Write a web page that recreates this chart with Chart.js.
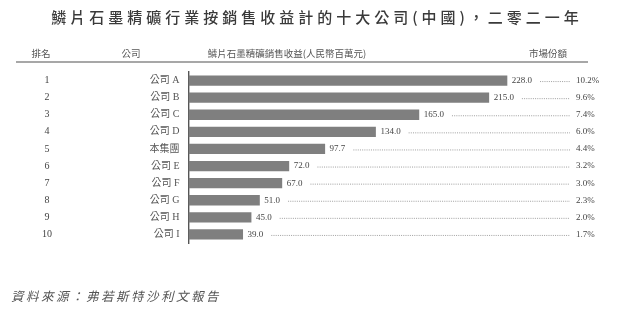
<!DOCTYPE html>
<html lang="zh-Hant">
  <head>
    <meta charset="UTF-8" />
    <title>鱗片石墨精礦行業十大公司</title>
    <script src="https://cdn.jsdelivr.net/npm/chart.js"></script>
    <style>
      html, body { margin: 0; padding: 0; background: #fff; }
      .chart-container { position: relative; width: 640px; height: 312px; }
    </style>
  </head>
  <body>
    <div class="chart-container">
      <canvas id="rankChart"></canvas>
    </div>
    <script>
      const ranks = [1, 2, 3, 4, 5, 6, 7, 8, 9, 10];
      const companies = ["公司 A", "公司 B", "公司 C", "公司 D", "本集團", "公司 E", "公司 F", "公司 G", "公司 H", "公司 I"];
      const revenue = [228.0, 215.0, 165.0, 134.0, 97.7, 72.0, 67.0, 51.0, 45.0, 39.0];
      const marketShare = [10.2, 9.6, 7.4, 6.0, 4.4, 3.2, 3.0, 2.3, 2.0, 1.7];

      const titleText = "鱗片石墨精礦行業按銷售收益計的十大公司(中國)，二零二一年";
      const headers = ["排名", "公司", "鱗片石墨精礦銷售收益(人民幣百萬元)", "市場份額"];
      const sourceText = "資料來源：弗若斯特沙利文報告";

      const serif = "'Liberation Serif', 'Noto Sans CJK TC', serif";
      const cjk = "'Noto Sans CJK TC', sans-serif";

      // draws title, column headers, ranks, values, dotted leaders, shares and source
      const tablePlugin = {
        id: "tableText",
        afterDraw(chart) {
          const ctx = chart.ctx;
          const x = chart.scales.x;
          const y = chart.scales.y;
          ctx.save();

          ctx.fillStyle = "#3a3a3a";
          ctx.font = "500 15px " + cjk;
          ctx.letterSpacing = "4px";
          ctx.textAlign = "center";
          ctx.textBaseline = "middle";
          ctx.fillText(titleText, 317, 17);

          ctx.letterSpacing = "0px";
          ctx.font = "9.5px " + cjk;
          ctx.fillStyle = "#555";
          ctx.fillText(headers[0], 41, 53);
          ctx.fillText(headers[1], 131, 53);
          ctx.fillText(headers[2], 287, 53);
          ctx.fillText(headers[3], 548, 53);

          ctx.strokeStyle = "#8a8a8a";
          ctx.lineWidth = 1.6;
          ctx.beginPath();
          ctx.moveTo(16, 62);
          ctx.lineTo(588, 62);
          ctx.stroke();

          revenue.forEach((v, i) => {
            const cy = y.getPixelForValue(i);
            const barEnd = x.getPixelForValue(v);
            const label = v.toFixed(1);

            ctx.fillStyle = "#444";
            ctx.textAlign = "center";
            ctx.font = "10px " + serif;
            ctx.fillText(String(ranks[i]), 47, cy);

            ctx.font = "9px " + serif;
            ctx.textAlign = "left";
            ctx.fillText(label, barEnd + 4.5, cy);
            const w = ctx.measureText(label).width;

            ctx.strokeStyle = "#777";
            ctx.lineWidth = 0.7;
            ctx.setLineDash([1, 1.2]);
            ctx.beginPath();
            ctx.moveTo(barEnd + 4.5 + w + 8, cy + 1);
            ctx.lineTo(570, cy + 1);
            ctx.stroke();
            ctx.setLineDash([]);

            ctx.fillText(marketShare[i].toFixed(1) + "%", 576, cy);
          });

          ctx.font = "italic 12.5px " + cjk;
          ctx.letterSpacing = "2.5px";
          ctx.fillStyle = "#555";
          ctx.textAlign = "left";
          ctx.fillText(sourceText, 11, 296);

          ctx.restore();
        },
      };

      const ctx = document.getElementById("rankChart").getContext("2d");
      const rankChart = new Chart(ctx, {
        type: "bar",
        data: {
          labels: companies,
          datasets: [
            {
              label: "收益",
              data: revenue,
              backgroundColor: "#7f7f7f",
              barPercentage: 0.6,
              categoryPercentage: 1,
            },
          ],
        },
        options: {
          indexAxis: "y",
          responsive: true,
          maintainAspectRatio: false,
          animation: false,
          layout: {
            padding: { top: 72, bottom: 69, left: 0, right: 32 },
          },
          plugins: {
            legend: { display: false },
            tooltip: { enabled: false },
          },
          scales: {
            x: {
              display: false,
              min: 0,
              max: 300,
            },
            y: {
              afterFit: (scale) => {
                scale.width = 188.5;
              },
              grid: { display: false, drawTicks: false },
              border: { display: true, color: "#555", width: 1.4 },
              ticks: {
                padding: 9,
                color: "#555",
                font: { family: serif, size: 10 },
              },
            },
          },
        },
        plugins: [tablePlugin],
      });
    </script>
  </body>
</html>
